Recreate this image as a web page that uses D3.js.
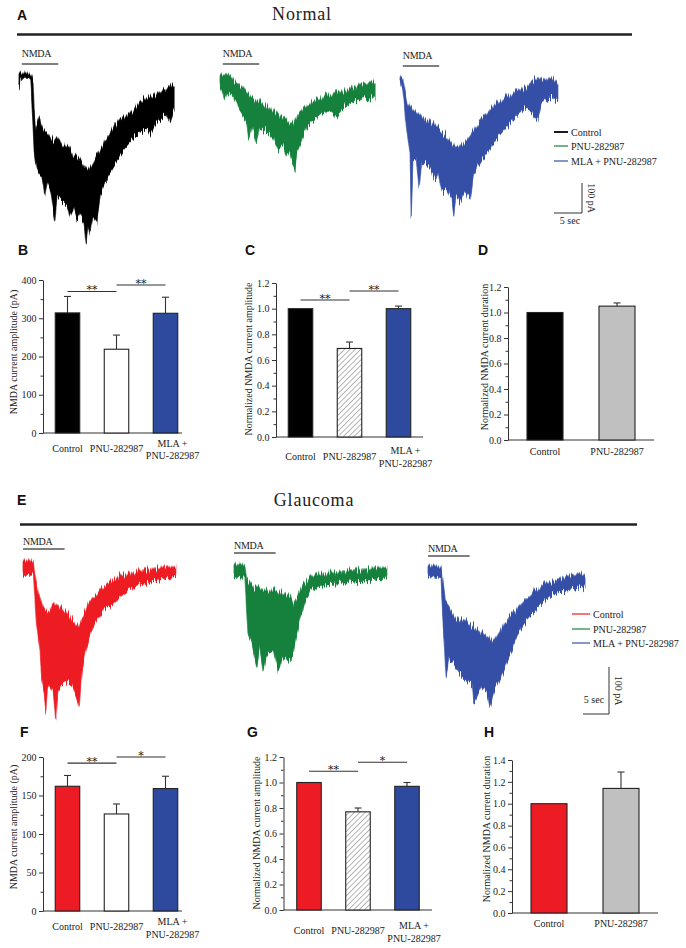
<!DOCTYPE html>
<html>
<head>
<meta charset="utf-8">
<script src="https://cdn.jsdelivr.net/npm/d3@7"></script>
<style>
  body { margin: 0; background: #fff; }
  text { font-family: 'Liberation Serif', 'Times New Roman', serif; fill: #222; }
  .letter { font-family: 'Liberation Sans', Arial, sans-serif; font-weight: bold; font-size: 14px; fill: #111; }
</style>
</head>
<body>
<div id="fig"></div>
<script>
// ---- data (time in s, current in pA) ----
const groups3 = ['Control', 'PNU-282987', 'MLA + PNU-282987'];
const groups2 = ['Control', 'PNU-282987'];

// bar charts
const ampNormal = [314, 219, 313];
const ampNormalErr = [43, 37, 42];
const relAmpNormal = [1.0, 0.69, 1.0];
const relAmpNormalErr = [0, 0.05, 0.02];
const relDurNormal = [1.0, 1.05];
const relDurNormalErr = [0, 0.025];
const ampGlaucoma = [162, 126, 159];
const ampGlaucomaErr = [14, 13, 16];
const relAmpGlaucoma = [1.0, 0.77, 0.97];
const relAmpGlaucomaErr = [0, 0.03, 0.03];
const relDurGlaucoma = [1.0, 1.14];
const relDurGlaucomaErr = [0, 0.15];

// significance brackets: [from, to, label, height]
const sigAmpNormal = [[0, 1, '**', 370], [1, 2, '**', 387]];
const sigRelAmpNormal = [[0, 1, '**', 1.067], [1, 2, '**', 1.138]];
const sigAmpGlaucoma = [[0, 1, '**', 192], [1, 2, '*', 200]];
const sigRelAmpGlaucoma = [[0, 1, '**', 1.088], [1, 2, '*', 1.159]];

// NMDA application window (s)
const nmdaNormal = [0.5, 7.0];
const nmdaGlaucoma = [0, 8.0];

// current traces, upper and lower edge of the noise band
const normalControlUpper = [[0,10],[2.1,10],[2.5,-13],[2.7,-115],[3.0,-165],[3.6,-135],[4.3,-175],[5.0,-185],[6.1,-215],[7.0,-205],[7.9,-235],[8.8,-230],[9.6,-255],[10.9,-280],[12.1,-315],[13.2,-290],[14.5,-245],[15.4,-215],[16.3,-190],[17.1,-165],[18.0,-145],[19.1,-130],[20.4,-115],[21.6,-85],[22.9,-70],[23.9,-65],[25.2,-55],[26.4,-40],[27.7,-30]];
const normalControlLower = [[0,-35],[0.2,-5],[2.1,-5],[2.7,-245],[2.9,-280],[3.4,-315],[4.1,-335],[4.6,-395],[5.0,-345],[5.7,-380],[6.4,-485],[6.8,-395],[7.7,-415],[8.6,-430],[9.1,-465],[9.8,-435],[10.4,-480],[10.9,-455],[11.6,-485],[12.0,-555],[12.3,-485],[12.7,-525],[13.2,-465],[13.9,-485],[14.5,-395],[15.2,-365],[15.9,-330],[16.8,-305],[17.7,-275],[18.6,-245],[19.5,-225],[20.4,-205],[21.6,-185],[22.9,-175],[23.4,-195],[24.3,-155],[25.2,-140],[26.3,-120],[27.0,-155],[27.7,-105]];
const normalPnuUpper = [[0,7],[1.8,10],[2.4,-10],[3.6,-30],[4.8,-55],[5.9,-70],[7.7,-90],[9.5,-110],[11.3,-130],[12.5,-150],[13.1,-160],[13.7,-130],[14.9,-100],[16.7,-80],[18.4,-65],[20.2,-55],[22.6,-40],[25.0,-25],[27.4,-15],[27.7,-20]];
const normalPnuLower = [[0,-25],[0.6,-50],[0.7,-75],[1.2,-45],[2.4,-65],[3.6,-110],[4.8,-145],[5.1,-205],[5.7,-155],[6.5,-220],[7.1,-165],[8.3,-175],[9.5,-200],[10.4,-245],[11.3,-220],[11.9,-265],[12.5,-245],[13.4,-310],[13.7,-255],[14.6,-210],[15.5,-165],[16.7,-145],[17.9,-120],[19.6,-110],[20.8,-130],[22.0,-100],[23.8,-80],[25.6,-70],[26.8,-75],[27.7,-60]];
const normalMlaUpper = [[0,5],[0.5,0],[1.25,-75],[2.1,-100],[2.9,-115],[5.4,-140],[6.8,-165],[8.4,-195],[10.0,-230],[11.6,-215],[13.2,-175],[14.8,-130],[17.1,-85],[18.8,-65],[21.1,-40],[22.7,-25],[24.1,0],[25.9,-5],[27.1,5],[28.2,-15]];
const normalMlaLower = [[0,-5],[0.5,-30],[1.25,-185],[1.8,-240],[2.0,-465],[2.3,-275],[2.9,-265],[3.4,-365],[3.9,-275],[5.4,-295],[6.3,-340],[6.8,-315],[7.5,-375],[8.4,-365],[9.3,-405],[9.6,-455],[10.0,-395],[10.7,-415],[11.6,-375],[12.5,-405],[13.2,-315],[14.8,-265],[15.9,-240],[17.1,-205],[18.8,-165],[20.0,-140],[21.1,-115],[22.7,-95],[23.6,-115],[24.6,-140],[25.2,-85],[25.9,-75],[27.1,-65],[28.2,-65]];

const glaucomaControlUpper = [[0,11],[2.0,11],[2.3,-23],[2.9,-58],[3.9,-87],[4.9,-94],[5.8,-79],[7.1,-87],[8.4,-94],[9.7,-115],[10.6,-129],[11.6,-101],[12.9,-72],[14.8,-51],[16.7,-30],[18.7,-19],[21.2,-12],[24.4,-5],[27.6,-1],[29.4,0]];
const glaucomaControlLower = [[0,-16],[2.0,-16],[2.6,-122],[3.3,-179],[3.6,-243],[4.1,-271],[4.4,-310],[4.7,-257],[5.2,-250],[5.8,-264],[6.3,-328],[6.7,-264],[7.4,-250],[8.4,-243],[9.4,-250],[10.3,-278],[10.8,-299],[11.3,-228],[11.9,-186],[12.9,-143],[14.2,-115],[15.4,-94],[17.4,-79],[19.3,-58],[21.2,-44],[23.1,-37],[25.1,-30],[27.6,-26],[29.4,-23]];
const glaucomaPnuUpper = [[0,6],[2.1,6],[2.4,-28],[3.7,-42],[5.6,-49],[7.6,-49],[9.5,-56],[10.8,-63],[11.4,-77],[12.1,-63],[12.7,-49],[13.3,-35],[14.6,-21],[16.5,-13],[19.1,-10],[22.3,-6],[25.5,-3],[29.4,1]];
const glaucomaPnuLower = [[0,-17],[2.1,-21],[2.4,-84],[2.7,-141],[3.4,-162],[4.4,-212],[5.0,-170],[5.6,-219],[6.3,-184],[7.6,-177],[8.5,-219],[9.5,-191],[10.8,-198],[11.4,-184],[12.1,-141],[12.7,-106],[13.7,-70],[14.6,-49],[16.5,-38],[19.1,-35],[22.3,-31],[25.5,-28],[29.4,-24]];
const glaucomaMlaUpper = [[0,9],[2.5,9],[3.3,-64],[5.4,-100],[8.1,-113],[10.6,-134],[12.3,-149],[13.1,-143],[14.8,-113],[17.3,-79],[20.0,-49],[22.5,-28],[26.0,-15],[29.4,-6],[30.2,-11]];
const glaucomaMlaLower = [[0,-9],[2.5,-17],[2.9,-113],[3.5,-228],[4.0,-185],[5.4,-206],[6.7,-228],[8.5,-240],[8.8,-283],[10.2,-249],[11.3,-262],[11.9,-291],[12.7,-255],[14.0,-228],[15.8,-177],[17.3,-134],[19.0,-106],[21.7,-70],[24.2,-49],[26.7,-43],[29.4,-36],[30.2,-32]];

// ---- colours ----
const BLACK = '#000000', RED = '#ed1c24', BLUE = '#2e4a9e', GRAY = '#c0c0c0';
const GREEN_TR = '#18803c', BLUE_TR = '#3450a6';

const svg = d3.select('#fig').append('svg')
  .attr('width', 686).attr('height', 948)
  .style('background', '#fff');

const defs = svg.append('defs');

// hatch pattern for PNU normalized bars
defs.append('pattern')
  .attr('id', 'hatch')
  .attr('patternUnits', 'userSpaceOnUse')
  .attr('width', 3.8).attr('height', 3.8)
  .attr('patternTransform', 'rotate(45)')
  .call(p => {
    p.append('rect').attr('width', 3.8).attr('height', 3.8).attr('fill', '#fff');
    p.append('line').attr('x1', 0).attr('y1', 0).attr('x2', 0).attr('y2', 3.8)
      .attr('stroke', '#444').attr('stroke-width', 0.8);
  });

// recording-noise look for the current traces (vertical jitter only)
const noise = defs.append('filter').attr('id', 'noise')
  .attr('x', '-5%').attr('y', '-15%').attr('width', '110%').attr('height', '130%');
noise.append('feTurbulence').attr('type', 'fractalNoise')
  .attr('baseFrequency', '0.9 0.03').attr('numOctaves', 2).attr('seed', 3).attr('result', 'turb');
noise.append('feColorMatrix').attr('in', 'turb').attr('type', 'matrix')
  .attr('values', '0 0 0 0 0.5  0 1 0 0 0  0 0 1 0 0  0 0 0 0 1').attr('result', 'turbY');
noise.append('feDisplacementMap').attr('in', 'SourceGraphic').attr('in2', 'turbY')
  .attr('scale', 14).attr('xChannelSelector', 'R').attr('yChannelSelector', 'G');

// panel letters
[['A', 17, 20], ['B', 18, 255], ['C', 245, 255], ['D', 478, 255],
 ['E', 17, 505], ['F', 20, 737], ['G', 247, 737], ['H', 484, 737]]
  .forEach(([l, x, y]) => svg.append('text').attr('class', 'letter').attr('x', x).attr('y', y).text(l));

// section headers
function header(title, cx, ty, lineY, x1, x2) {
  svg.append('text').attr('x', cx).attr('y', ty).attr('text-anchor', 'middle')
    .style('font-size', '18px').style('letter-spacing', '0.8px').text(title);
  svg.append('line').attr('x1', x1).attr('x2', x2).attr('y1', lineY).attr('y2', lineY)
    .attr('stroke', '#222').attr('stroke-width', 2.6);
}
header('Normal', 302, 20, 34.5, 17, 632);
header('Glaucoma', 314, 506, 524.5, 20, 637);

// ---- traces ----
function tracePanel(cfg) {
  const sx = d3.scaleLinear().domain([0, 5]).range([0, cfg.pxPer5s]);
  const sy = d3.scaleLinear().domain([0, 100]).range([0, -cfg.pxPer100pA]);
  const line = d3.line().x(d => sx(d[0])).y(d => sy(d[1]));

  cfg.traces.forEach(tr => {
    const g = svg.append('g').attr('transform', `translate(${tr.ox},${tr.oy})`);
    const pts = tr.upper.concat(tr.lower.slice().reverse());
    // light halo of spikes, then the dense band
    g.append('path')
      .attr('d', line(pts) + 'Z')
      .attr('fill', tr.color).attr('opacity', 0.55)
      .attr('stroke', tr.color).attr('stroke-width', 0.8)
      .attr('filter', 'url(#noise)');
    g.append('path')
      .attr('d', line(pts) + 'Z')
      .attr('fill', tr.color)
      .attr('stroke', tr.color)
      .attr('stroke-width', 0.4)
      .attr('stroke-linejoin', 'bevel')
      .attr('transform', 'translate(0,1)')
      .attr('filter', 'url(#noise)');

    // NMDA application bar
    const lab = svg.append('g').attr('transform', `translate(${tr.ox},0)`);
    lab.append('text').attr('x', sx(cfg.nmda[0])).attr('y', tr.labelY)
      .style('font-size', '10px').style('letter-spacing', '-0.3px').text('NMDA');
    lab.append('line')
      .attr('x1', sx(cfg.nmda[0])).attr('x2', sx(cfg.nmda[1]))
      .attr('y1', tr.barY).attr('y2', tr.barY)
      .attr('stroke', '#555').attr('stroke-width', 1.3);
  });

  // legend
  cfg.traces.forEach((tr, i) => {
    const y = cfg.legend.y[i];
    svg.append('line').attr('x1', cfg.legend.x1).attr('x2', cfg.legend.x2)
      .attr('y1', y).attr('y2', y)
      .attr('stroke', tr.color).attr('stroke-width', i === 0 && tr.color === BLACK ? 1.8 : 1.2);
    svg.append('text').attr('x', cfg.legend.tx).attr('y', y + 3.5)
      .style('font-size', '10px').text(groups3[i]);
  });

  // scale bar: 5 sec / 100 pA
  const sb = cfg.scaleBar;
  const sg = svg.append('g').attr('transform', `translate(${sb.x},${sb.y})`);
  sg.append('path')
    .attr('d', `M${-sx(5)},0H0V${sy(100)}`)
    .attr('fill', 'none').attr('stroke', '#333').attr('stroke-width', 1);
  sg.append('text').attr('x', sb.secX).attr('y', sb.secY).attr('text-anchor', 'middle')
    .style('font-size', '10px').text('5 sec');
  sg.append('text')
    .attr('transform', `translate(${sb.paX},${sy(50)}) rotate(90)`)
    .attr('text-anchor', 'middle')
    .style('font-size', '10px').text('100 pA');
}

tracePanel({
  pxPer5s: 28, pxPer100pA: 30, nmda: nmdaNormal,
  traces: [
    { upper: normalControlUpper, lower: normalControlLower, color: BLACK, ox: 19, oy: 76, labelY: 57, barY: 64 },
    { upper: normalPnuUpper, lower: normalPnuLower, color: GREEN_TR, ox: 220, oy: 77, labelY: 57, barY: 64 },
    { upper: normalMlaUpper, lower: normalMlaLower, color: BLUE_TR, ox: 400, oy: 78, labelY: 59, barY: 66 }
  ],
  legend: { x1: 554, x2: 568, tx: 571, y: [132, 146, 161] },
  scaleBar: { x: 582, y: 213, secX: -12, secY: 11, paX: 6 }
});

tracePanel({
  pxPer5s: 26, pxPer100pA: 47, nmda: nmdaGlaucoma,
  traces: [
    { upper: glaucomaControlUpper, lower: glaucomaControlLower, color: RED, ox: 23, oy: 566, labelY: 545, barY: 549 },
    { upper: glaucomaPnuUpper, lower: glaucomaPnuLower, color: GREEN_TR, ox: 234, oy: 567, labelY: 549, barY: 553 },
    { upper: glaucomaMlaUpper, lower: glaucomaMlaLower, color: BLUE_TR, ox: 428, oy: 570, labelY: 552, barY: 556 }
  ],
  legend: { x1: 572, x2: 590, tx: 593, y: [614, 629, 643] },
  scaleBar: { x: 609, y: 714, secX: -15, secY: -11, paX: 6 }
});

// ---- bar charts ----
function barPanel(cfg) {
  const y = d3.scaleLinear().domain([0, cfg.max]).range([cfg.y0, cfg.y1]);
  const x = d3.scaleBand().domain(cfg.cats).range(cfg.xr).paddingInner(0.5).paddingOuter(0.25);
  const g = svg.append('g');

  // y axis (major + minor ticks)
  const major = d3.range(0, cfg.max + cfg.step / 2, cfg.step);
  const minor = d3.range(cfg.step / 2, cfg.max, cfg.step);
  g.append('g').attr('transform', `translate(${cfg.ax},0)`)
    .call(d3.axisLeft(y).tickValues(minor).tickSize(2.5).tickSizeOuter(0).tickFormat(''))
    .call(a => a.select('.domain').remove())
    .call(a => a.selectAll('line').attr('stroke', '#333'));
  g.append('g').attr('transform', `translate(${cfg.ax},0)`)
    .call(d3.axisLeft(y).tickValues(major).tickSize(4).tickSizeOuter(0).tickPadding(2.5).tickFormat(cfg.fmt))
    .call(a => a.select('.domain').attr('stroke', '#333'))
    .call(a => a.selectAll('line').attr('stroke', '#333'))
    .call(a => a.selectAll('text').attr('fill', '#222')
      .style('font-family', "'Liberation Serif', serif").style('font-size', '10px'));

  // x axis baseline
  g.append('line').attr('x1', cfg.ax).attr('x2', cfg.axEnd)
    .attr('y1', cfg.y0).attr('y2', cfg.y0).attr('stroke', '#333').attr('stroke-width', 1);

  // error bars (upper only)
  cfg.cats.forEach((c, i) => {
    if (!cfg.err[i]) return;
    const cx = x(c) + x.bandwidth() / 2;
    g.append('line').attr('x1', cx).attr('x2', cx)
      .attr('y1', y(cfg.values[i])).attr('y2', y(cfg.values[i] + cfg.err[i]))
      .attr('stroke', '#333').attr('stroke-width', 1.1);
    g.append('line').attr('x1', cx - 3.5).attr('x2', cx + 3.5)
      .attr('y1', y(cfg.values[i] + cfg.err[i])).attr('y2', y(cfg.values[i] + cfg.err[i]))
      .attr('stroke', '#333').attr('stroke-width', 1.1);
  });

  // bars
  g.selectAll('rect.bar').data(cfg.values).enter().append('rect')
    .attr('class', 'bar')
    .attr('x', (d, i) => x(cfg.cats[i]))
    .attr('width', x.bandwidth())
    .attr('y', d => y(d))
    .attr('height', d => cfg.y0 - y(d))
    .attr('fill', (d, i) => cfg.fills[i])
    .attr('stroke', '#222').attr('stroke-width', 1.1);

  // significance brackets
  (cfg.sig || []).forEach(([a, b, lab, h]) => {
    const xa = x(cfg.cats[a]) + x.bandwidth() / 2;
    const xb = x(cfg.cats[b]) + x.bandwidth() / 2;
    g.append('line').attr('x1', xa).attr('x2', xb).attr('y1', y(h)).attr('y2', y(h))
      .attr('stroke', '#333').attr('stroke-width', 1.1);
    g.append('text').attr('x', (xa + xb) / 2).attr('y', y(h) + 2)
      .attr('text-anchor', 'middle').attr('fill', '#222')
      .style('font-family', "'DejaVu Serif', serif").style('font-size', '11px').text(lab);
  });

  // category labels
  cfg.cats.forEach((c, i) => {
    const cx = x(c) + x.bandwidth() / 2;
    if (c === 'MLA + PNU-282987') {
      g.append('text').attr('x', cx + 7).attr('y', cfg.y0 + cfg.lab2[0])
        .attr('text-anchor', 'middle').style('font-size', '10px').text('MLA +');
      g.append('text').attr('x', cx + 7).attr('y', cfg.y0 + cfg.lab2[1])
        .attr('text-anchor', 'middle').style('font-size', '10px').text('PNU-282987');
    } else {
      g.append('text').attr('x', cx).attr('y', cfg.y0 + cfg.lab1)
        .attr('text-anchor', 'middle').style('font-size', '10px').text(c);
    }
  });

  // y label
  g.append('text')
    .attr('transform', `translate(${cfg.ylx},${cfg.yly}) rotate(-90)`)
    .attr('text-anchor', 'middle').style('font-size', '10px').text(cfg.ylabel);
}

const fmtInt = d3.format('d'), fmt1 = d3.format('.1f');

barPanel({ cats: groups3, values: ampNormal, err: ampNormalErr, fills: [BLACK, '#fff', BLUE],
  max: 400, step: 100, fmt: fmtInt, ax: 43, axEnd: 182, xr: [43, 190], y0: 433, y1: 280,
  sig: sigAmpNormal, lab1: 19, lab2: [14, 26], ylabel: 'NMDA current amplitude (pA)', ylx: 17, yly: 352 });

barPanel({ cats: groups3, values: relAmpNormal, err: relAmpNormalErr, fills: [BLACK, 'url(#hatch)', BLUE],
  max: 1.2, step: 0.2, fmt: fmt1, ax: 276, axEnd: 423, xr: [276, 423], y0: 437, y1: 283,
  sig: sigRelAmpNormal, lab1: 23, lab2: [17, 30], ylabel: 'Normalized NMDA current amplitude', ylx: 252, yly: 359 });

barPanel({ cats: groups2, values: relDurNormal, err: relDurNormalErr, fills: [BLACK, GRAY],
  max: 1.2, step: 0.2, fmt: fmt1, ax: 508, axEnd: 654, xr: [509, 653], y0: 440, y1: 287,
  lab1: 15, ylabel: 'Normalized NMDA current duration', ylx: 488, yly: 357 });

barPanel({ cats: groups3, values: ampGlaucoma, err: ampGlaucomaErr, fills: [RED, '#fff', BLUE],
  max: 200, step: 50, fmt: fmtInt, ax: 43, axEnd: 182, xr: [43, 190], y0: 911, y1: 757,
  sig: sigAmpGlaucoma, lab1: 19, lab2: [14, 27], ylabel: 'NMDA current amplitude (pA)', ylx: 17, yly: 827 });

barPanel({ cats: groups3, values: relAmpGlaucoma, err: relAmpGlaucomaErr, fills: [RED, 'url(#hatch)', BLUE],
  max: 1.2, step: 0.2, fmt: fmt1, ax: 283.5, axEnd: 432, xr: [284.5, 431.5], y0: 910, y1: 757,
  sig: sigRelAmpGlaucoma, lab1: 24, lab2: [19, 32], ylabel: 'Normalized NMDA current amplitude', ylx: 260, yly: 833 });

barPanel({ cats: groups2, values: relDurGlaucoma, err: relDurGlaucomaErr, fills: [RED, GRAY],
  max: 1.4, step: 0.2, fmt: fmt1, ax: 512, axEnd: 658, xr: [513, 657], y0: 913, y1: 760,
  lab1: 14, ylabel: 'Normalized NMDA current duration', ylx: 490, yly: 829 });
</script>
</body>
</html>
